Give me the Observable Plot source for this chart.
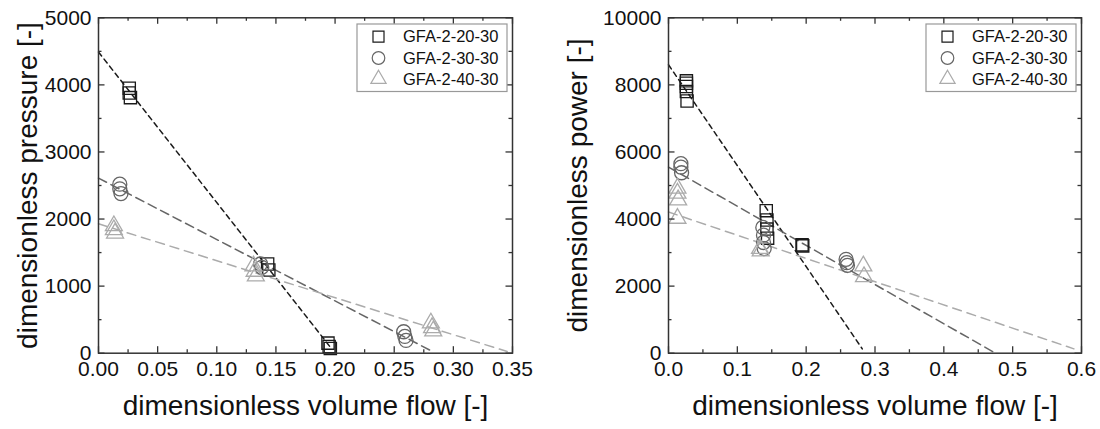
<!DOCTYPE html>
<html><head><meta charset="utf-8">
<script src="https://cdn.jsdelivr.net/npm/d3@7"></script>
<script src="https://cdn.jsdelivr.net/npm/@observablehq/plot@0.6"></script>
<style>
body{margin:0;background:#fff;}
#wrap{position:relative;width:1100px;height:429px;overflow:hidden;background:#fff;font-family:"Liberation Sans",Arial,sans-serif;}
#wrap > svg, #wrap > figure, #wrap > div{position:absolute;margin:0;}
</style></head><body><div id="wrap"></div>
<script>
// ---------- series ----------
const seriesNames = ["GFA-2-20-30", "GFA-2-30-30", "GFA-2-40-30"];
const seriesColors = ["#1a1a1a", "#666666", "#ababab"];
const seriesSymbols = ["square", "circle", "triangle"];
const symbolR = [6.9, 7, 6.3];
const fitDash = ["5,4", "9,5", "9,6"];

// ---------- panel A: dimensionless pressure ----------
const flowTicksA = [0, 0.05, 0.10, 0.15, 0.20, 0.25, 0.30, 0.35];
const pressureTicks = [0, 1000, 2000, 3000, 4000, 5000];
const flowA20 = [0.026, 0.026, 0.027, 0.143, 0.144, 0.194, 0.195, 0.196];
const pressA20 = [3950, 3880, 3810, 1330, 1240, 150, 100, 70];
const flowA30 = [0.018, 0.018, 0.019, 0.137, 0.138, 0.258, 0.259, 0.260];
const pressA30 = [2520, 2450, 2380, 1330, 1280, 320, 250, 190];
const flowA40 = [0.013, 0.013, 0.014, 0.131, 0.132, 0.133, 0.281, 0.282, 0.283];
const pressA40 = [1900, 1840, 1790, 1300, 1220, 1150, 450, 380, 330];
const fitFlowA20 = [0, 0.196], fitPressA20 = [4490, 90];
const fitFlowA30 = [0, 0.2835], fitPressA30 = [2610, 15];
const fitFlowA40 = [0, 0.3455], fitPressA40 = [1930, 25];

// ---------- panel B: dimensionless power ----------
const flowTicksB = [0, 0.1, 0.2, 0.3, 0.4, 0.5, 0.6];
const powerTicks = [0, 2000, 4000, 6000, 8000, 10000];
const flowB20 = [0.026, 0.026, 0.026, 0.026, 0.027, 0.142, 0.143, 0.143, 0.144, 0.194, 0.195];
const powB20 = [8120, 8050, 7950, 7800, 7520, 4250, 3970, 3700, 3430, 3230, 3200];
const flowB30 = [0.018, 0.018, 0.019, 0.137, 0.138, 0.138, 0.139, 0.258, 0.259, 0.260];
const powB30 = [5650, 5550, 5380, 3750, 3520, 3300, 3120, 2800, 2700, 2620];
const flowB40 = [0.013, 0.013, 0.014, 0.013, 0.133, 0.134, 0.283, 0.284];
const powB40 = [4920, 4770, 4570, 4020, 3120, 3050, 2600, 2280];
const fitFlowB20 = [0, 0.2815], fitPowB20 = [8600, 130];
const fitFlowB30 = [0, 0.4726], fitPowB30 = [5550, 30];
const fitFlowB40 = [0, 0.589], fitPowB40 = [4210, 130];

const xTitle = "dimensionless volume flow [-]";

const rows = (xs, ys) => xs.map((x, i) => ({x, y: ys[i]}));
const wrap = document.getElementById("wrap");

const W = 550, H = 429, MT = 17.3, MB = 76.3;

function panel(o) {
  const innerW = W - o.marginLeft - o.marginRight, innerH = H - MT - MB;
  const ink = "#333";
  const major = 6.5, minor = 3.5;
  const xMinor = d3.range(0, o.xDomain[1] + 1e-9, o.xMinorStep).filter(v => !o.xTicks.some(t => Math.abs(t - v) < 1e-9));
  const yMinor = d3.range(0, o.yDomain[1] + 1e-9, o.yMinorStep).filter(v => !o.yTicks.some(t => Math.abs(t - v) < 1e-9));
  const marks = [];
  o.fits.forEach((f, i) => marks.push(Plot.line(rows(f[0], f[1]), {
    x: "x", y: "y", stroke: seriesColors[i], strokeWidth: 1.5, strokeDasharray: fitDash[i]
  })));
  o.series.forEach((s, i) => marks.push(Plot.dot(rows(s[0], s[1]), {
    x: "x", y: "y", symbol: seriesSymbols[i], r: symbolR[i], stroke: seriesColors[i], strokeWidth: 1.3, fill: "none"
  })));
  // inward ticks on all four sides
  marks.push(
    Plot.tickX(o.xTicks, {x: d => d, insetTop: innerH - major, stroke: ink, strokeWidth: 1.3}),
    Plot.tickX(xMinor, {x: d => d, insetTop: innerH - minor, stroke: ink, strokeWidth: 1.3}),
    Plot.tickX(o.xTicks, {x: d => d, insetBottom: innerH - major, stroke: ink, strokeWidth: 1.3}),
    Plot.tickX(xMinor, {x: d => d, insetBottom: innerH - minor, stroke: ink, strokeWidth: 1.3}),
    Plot.tickY(o.yTicks, {y: d => d, insetRight: innerW - major, stroke: ink, strokeWidth: 1.3}),
    Plot.tickY(yMinor, {y: d => d, insetRight: innerW - minor, stroke: ink, strokeWidth: 1.3}),
    Plot.tickY(o.yTicks, {y: d => d, insetLeft: innerW - major, stroke: ink, strokeWidth: 1.3}),
    Plot.tickY(yMinor, {y: d => d, insetLeft: innerW - minor, stroke: ink, strokeWidth: 1.3}),
    Plot.frame({stroke: ink, strokeWidth: 1.5}),
    Plot.axisX(o.xTicks, {tickSize: 0, tickPadding: 8, tickFormat: o.xFmt, fontSize: 21, label: null, fill: "#111"}),
    Plot.axisY(o.yTicks, {tickSize: 0, tickPadding: 7, tickFormat: d => String(d), fontSize: 21, label: null, fill: "#111"}),
    Plot.text([xTitle], {text: d => d, frameAnchor: "bottom", textAnchor: "middle", dy: 62, lineAnchor: "bottom", fontSize: 28, fill: "#111"}),
    Plot.text([o.yTitle], {text: d => d, frameAnchor: "left", textAnchor: "middle", rotate: -90, dx: o.yTitleDx, lineAnchor: "bottom", fontSize: 28, fill: "#111"})
  );
  const svg = Plot.plot({
    width: W, height: H,
    marginLeft: o.marginLeft, marginRight: o.marginRight, marginTop: MT, marginBottom: MB,
    x: {domain: o.xDomain, label: null},
    y: {domain: o.yDomain, label: null},
    style: {fontFamily: '"Liberation Sans", Arial, sans-serif', fontSize: "21px", color: "#111", background: "white", overflow: "visible"},
    marks
  });
  svg.style.left = o.left + "px";
  svg.style.top = "0px";
  wrap.appendChild(svg);

  // legend (inside the frame, top-right)
  const frameRight = o.left + W - o.marginRight;
  const bw = 150, bh = 67.5;
  const bx = frameRight - 5 - bw, by = MT + 7;
  const lg = d3.select(wrap).append("svg")
    .attr("width", bw + 2).attr("height", bh + 2)
    .style("left", (bx - 1) + "px").style("top", (by - 1) + "px");
  lg.append("rect").attr("x", 1).attr("y", 1).attr("width", bw).attr("height", bh)
    .attr("fill", "white").attr("stroke", "#999").attr("stroke-width", 1.2);
  const rowY = [12.7, 34, 55];
  seriesNames.forEach((name, i) => {
    const cy = 1 + rowY[i];
    const sym = d3.symbol().type(i === 0 ? d3.symbolSquare : i === 1 ? d3.symbolCircle : d3.symbolTriangle)
      .size(Math.PI * Math.pow(symbolR[i] * 0.9, 2));
    lg.append("path").attr("d", sym()).attr("transform", `translate(${1 + 21.5},${cy})`)
      .attr("fill", "none").attr("stroke", seriesColors[i]).attr("stroke-width", 1.2);
    lg.append("text").attr("x", 1 + 46).attr("y", cy).attr("dy", "0.35em")
      .attr("font-size", 16.5).attr("fill", "#111")
      .attr("font-family", '"Liberation Sans", Arial, sans-serif').text(name);
  });
}

panel({
  left: 0, marginLeft: 98, marginRight: 38,
  xDomain: [0, 0.35], yDomain: [0, 5000],
  xTicks: flowTicksA, yTicks: pressureTicks, xMinorStep: 0.025, yMinorStep: 500,
  xFmt: d => d.toFixed(2),
  series: [[flowA20, pressA20], [flowA30, pressA30], [flowA40, pressA40]],
  fits: [[fitFlowA20, fitPressA20], [fitFlowA30, fitPressA30], [fitFlowA40, fitPressA40]],
  yTitle: "dimensionless pressure [-]", yTitleDx: -62
});
panel({
  left: 550, marginLeft: 118, marginRight: 19,
  xDomain: [0, 0.6], yDomain: [0, 10000],
  xTicks: flowTicksB, yTicks: powerTicks, xMinorStep: 0.05, yMinorStep: 1000,
  xFmt: d => d.toFixed(1),
  series: [[flowB20, powB20], [flowB30, powB30], [flowB40, powB40]],
  fits: [[fitFlowB20, fitPowB20], [fitFlowB30, fitPowB30], [fitFlowB40, fitPowB40]],
  yTitle: "dimensionless power [-]", yTitleDx: -82
});
</script></body></html>
